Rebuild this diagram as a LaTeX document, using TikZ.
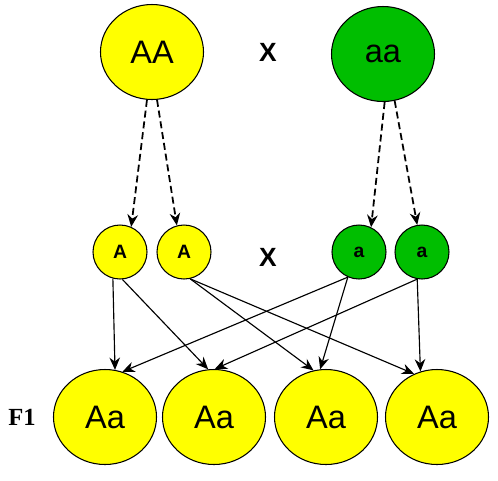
\documentclass[tikz,border=0pt]{standalone}
\usepackage{fontspec}
\setmainfont{Liberation Sans}
\newfontfamily\labelfont{Liberation Serif}
\usetikzlibrary{shapes.geometric,arrows.meta}

\definecolor{alleleyellow}{RGB}{255,255,0}
\definecolor{allelegreen}{RGB}{0,190,0}

\tikzset{
    parent/.style={draw, ellipse, inner sep=0pt, line width=0.6pt, minimum width=2.06cm, minimum height=1.9cm, font=\fontsize{18.5}{18.5}\selectfont},
    gamete/.style={draw, circle, inner sep=0pt, line width=0.6pt, minimum size=1.08cm, font=\bfseries\fontsize{11}{11}\selectfont},
    cross/.style={font=\bfseries\fontsize{15}{15}\selectfont},
    pass/.style={->, line width=1pt, dash pattern=on 4pt off 2.2pt},
    link/.style={->, line width=0.65pt}
}

\begin{document}
\begin{tikzpicture}[node distance=2.3cm, >={Stealth[length=7pt,width=6pt]}]
    \useasboundingbox (-3.04,-8.56) rectangle (6.92,1.04);
    % Nodes
    \node [parent, fill=alleleyellow] (AA) {AA};
    \node [cross, right of=AA, node distance=2.32cm] (x1) {X};
    \node [parent, fill=allelegreen, right of=x1, node distance=2.3cm, yshift=-0.04cm] (aa) {aa};
    \node [cross, below of=x1, node distance=4.1cm] (x2) {X};
    \node [gamete, fill=alleleyellow, left of=x2, node distance=1.68cm, yshift=0.1cm] (A2) {A};
    \node [gamete, fill=alleleyellow, left of=A2, node distance=1.28cm] (A1) {A};
    \node [gamete, fill=allelegreen, right of=x2, node distance=1.82cm, yshift=0.1cm] (a1) {a};
    \node [gamete, fill=allelegreen, right of=a1, node distance=1.26cm] (a2) {a};
    \node [parent, fill=alleleyellow, below of=A1, node distance=3.3cm, xshift=-0.3cm] (Aa1) {Aa};
    \node [parent, fill=alleleyellow, right of=Aa1, node distance=2.18cm] (Aa2) {Aa};
    \node [parent, fill=alleleyellow, right of=Aa2, node distance=2.24cm] (Aa3) {Aa};
    \node [parent, fill=alleleyellow, right of=Aa3, node distance=2.22cm] (Aa4) {Aa};
    \node [left of=Aa1, node distance=1.66cm, font=\labelfont\bfseries\fontsize{14}{14}\selectfont] (F1) {F1};
    % Arrows
    \draw[pass] (AA.-96) -- (A1.66);
    \draw[pass] (AA.-84) -- (A2.105);
    \draw[pass] (aa.-88) -- (a1.64);
    \draw[pass] (aa.-76) -- (a2.100);
    \draw[link] (A1.-105) -- (Aa1.78);
    \draw[link] (A1.-85) -- (Aa2.97);
    \draw[link] (A2.-77) -- (Aa3.105);
    \draw[link] (A2.-77) -- (Aa4.118);
    \draw[link] (a1.-114) -- (Aa1.69);
    \draw[link] (a1.-114) -- (Aa3.97);
    \draw[link] (a2.-100) -- (Aa2.89);
    \draw[link] (a2.-100) -- (Aa4.110);
\end{tikzpicture}
\end{document}
